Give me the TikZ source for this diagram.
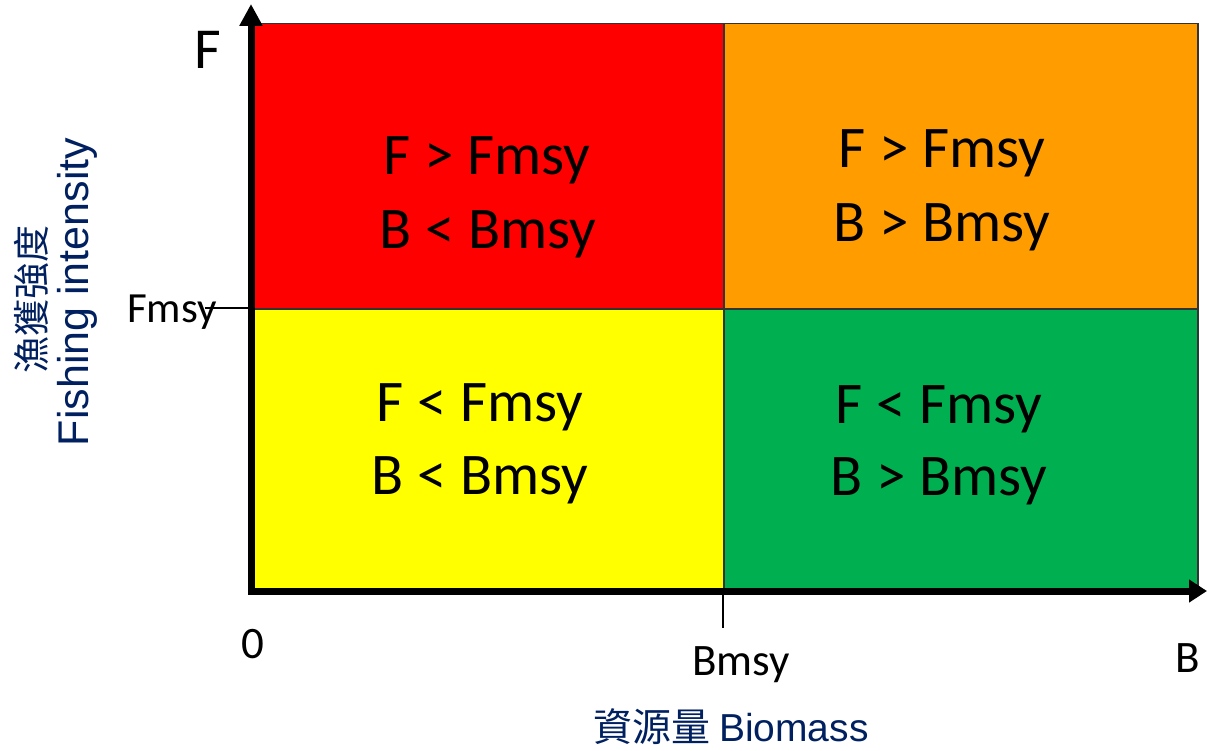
\documentclass[tikz,border=0pt]{standalone}
\usepackage{fontspec}
\setmainfont{Carlito}
\newfontfamily\labfont{Liberation Sans}
\newfontfamily\cjkfont{Noto Sans CJK TC}
\usetikzlibrary{arrows.meta}
\definecolor{qred}{RGB}{255,0,0}
\definecolor{qorange}{RGB}{255,156,0}
\definecolor{qyellow}{RGB}{255,255,0}
\definecolor{qgreen}{RGB}{0,176,80}
\definecolor{navy}{RGB}{0,32,96}
\begin{document}
\begin{tikzpicture}[x=1pt,y=-1pt,
  quad/.style={draw=black!80, line width=1.5pt, inner sep=0pt, anchor=north west},
  qtext/.style={anchor=base, inner sep=0pt, font=\fontsize{59}{62}\selectfont},
  axlab/.style={anchor=base, inner sep=0pt, font=\fontsize{45}{48}\selectfont},
  axisline/.style={line width=7pt, {Triangle[length=22pt,width=22pt]}-{Triangle[length=18pt,width=22pt]}},
  tickline/.style={line width=1.5pt},
  bluelab/.style={text=navy, inner sep=0pt}]
\useasboundingbox (0,0) rectangle (1207,751);
% quadrants
\node[quad, fill=qred, minimum width=471pt, minimum height=285pt] (qA) at (252,23) {};
\node[quad, fill=qorange, minimum width=474pt, minimum height=285pt] (qB) at (723,23) {};
\node[quad, fill=qyellow, minimum width=471pt, minimum height=283pt] (qC) at (252,308) {};
\node[quad, fill=qgreen, minimum width=474pt, minimum height=283pt] (qD) at (723,308) {};
% quadrant texts
\node[qtext] (tA1) at (487,175) {F > Fmsy};
\node[qtext] (tA2) at (488,249) {B < Bmsy};
\node[qtext] (tB1) at (942,168) {F > Fmsy};
\node[qtext] (tB2) at (942,242) {B > Bmsy};
\node[qtext] (tC1) at (480,421) {F < Fmsy};
\node[qtext] (tC2) at (480,494) {B < Bmsy};
\node[qtext] (tD1) at (939,423) {F < Fmsy};
\node[qtext] (tD2) at (939,495) {B > Bmsy};
% axes
\coordinate (ytip) at (251,4);
\coordinate (O) at (251,591);
\coordinate (xtip) at (1207,591);
\draw[axisline] (ytip) -- (O) -- (xtip);
% ticks
\coordinate (fmL) at (205,308);
\coordinate (fmR) at (251,308);
\coordinate (bmT) at (723,591);
\coordinate (bmB) at (723,628);
\draw[tickline] (fmL) -- (fmR);
\draw[tickline] (bmT) -- (bmB);
% axis labels
\node[anchor=base, inner sep=0pt, font=\fontsize{58}{60}\selectfont] (lF) at (208,69) {F};
\node[anchor=base west, inner sep=0pt, font=\fontsize{43}{46}\selectfont] (lFmsy) at (127,322) {Fmsy};
\node[axlab] (l0) at (253,658) {0};
\node[axlab] (lBmsy) at (741,675) {Bmsy};
\node[axlab] (lB) at (1188,672) {B};
% blue labels
\node[bluelab, rotate=90, font=\fontsize{37}{40}\selectfont\cjkfont] (ylab1) at (31,299) {漁獲強度};
\node[bluelab, rotate=90, font=\fontsize{43}{46}\selectfont\labfont] (ylab2) at (77,292) {Fishing intensity};
\node[bluelab, anchor=base, font=\fontsize{39}{42}\selectfont] (xlab) at (731,741) {{\cjkfont 資源量} {\labfont Biomass}};
\end{tikzpicture}
\end{document}
